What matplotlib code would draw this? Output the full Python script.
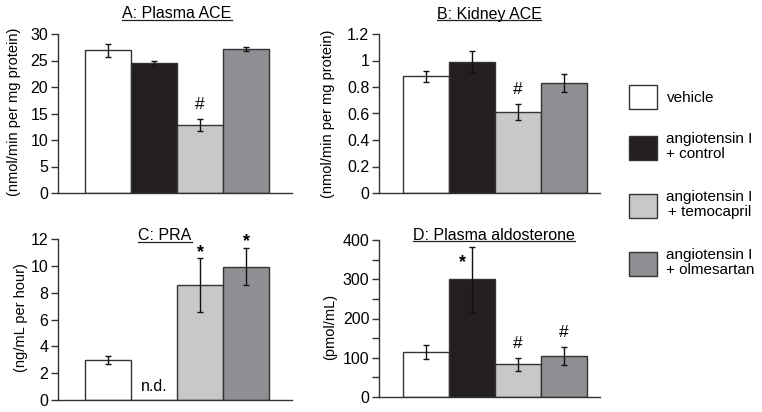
import numpy as np
import matplotlib.pyplot as plt
from matplotlib.patches import Rectangle
from matplotlib.lines import Line2D

plt.rcParams['font.family'] = ['Liberation Sans', 'DejaVu Sans']
plt.rcParams['font.size'] = 11

groups = ['vehicle', 'angiotensin I\n+ control', 'angiotensin I\n+ temocapril', 'angiotensin I\n+ olmesartan']
colors = ['#ffffff', '#231f20', '#c7c8ca', '#8f9093']

# panel data
plasma_ace = [26.9, 24.5, 12.8, 27.1]
plasma_ace_err = [1.2, 0.4, 1.15, 0.4]
kidney_ace = [0.88, 0.99, 0.61, 0.83]
kidney_ace_err = [0.04, 0.08, 0.06, 0.07]
pra = [2.95, np.nan, 8.55, 9.95]
pra_err = [0.3, np.nan, 2.0, 1.4]
aldo = [115, 300, 83, 104]
aldo_err = [18, 83, 17, 23]

titles = ['A: Plasma ACE', 'B: Kidney ACE', 'C: PRA', 'D: Plasma aldosterone']
ylabels = ['(nmol/min per mg protein)', '(nmol/min per mg protein)', '(ng/mL per hour)', '(pmol/mL)']
marks = [['', '', '#', ''], ['', '', '#', ''], ['', '', '*', '*'], ['', '*', '#', '#']]

W, H = 762, 412
fig = plt.figure(figsize=(W / 100, H / 100), dpi=100)


def rect(l, t, r, b):
    return [l / W, 1 - b / H, (r - l) / W, (b - t) / H]


def px(x, y):
    return x / W, 1 - y / H


panels = [
    dict(box=(58, 34, 292, 193), xlim=(-1.09, 4.0), vals=plasma_ace, errs=plasma_ace_err,
         ylim=30, ticks=np.arange(0, 31, 5), step=1, title=(177, 14), ylab=(14, 112)),
    dict(box=(379, 34, 600, 193), xlim=(-1.02, 3.78), vals=kidney_ace, errs=kidney_ace_err,
         ylim=1.2, ticks=np.arange(0, 1.21, 0.2), step=1, title=(489, 14), ylab=(328, 114)),
    dict(box=(58, 239, 292, 400), xlim=(-1.09, 4.0), vals=pra, errs=pra_err,
         ylim=12, ticks=np.arange(0, 13, 2), step=1, title=(165, 236), ylab=(21, 318)),
    dict(box=(379, 240, 600, 397), xlim=(-1.02, 3.78), vals=aldo, errs=aldo_err,
         ylim=400, ticks=np.arange(0, 401, 50), step=2, title=(494, 235), ylab=(330, 327)),
]

edge = '#333333'
title_texts = []
for i, p in enumerate(panels):
    ax = fig.add_axes(rect(*p['box']))
    x = np.arange(4)
    vals = np.array(p['vals'], dtype=float)
    errs = np.array(p['errs'], dtype=float)
    ax.bar(x, np.nan_to_num(vals), width=1.0, color=colors, edgecolor=edge, linewidth=1, zorder=2)
    ok = ~np.isnan(vals)
    ax.errorbar(x[ok], vals[ok], yerr=errs[ok], fmt='none', ecolor='#111111',
                elinewidth=1, capsize=2.5, capthick=1, zorder=3)
    ax.set_xlim(*p['xlim'])
    ax.set_ylim(0, p['ylim'])
    ax.set_yticks(p['ticks'])
    labels = ['%g' % t if k % p['step'] == 0 else '' for k, t in enumerate(p['ticks'])]
    ax.set_yticklabels(labels, fontsize=11.5)
    ax.set_xticks([])
    for s in ['top', 'right']:
        ax.spines[s].set_visible(False)
    for s in ['left', 'bottom']:
        ax.spines[s].set_color(edge)
        ax.spines[s].set_linewidth(1)
    ax.tick_params(axis='y', length=5, width=1, color=edge, pad=2)

    for j, m in enumerate(marks[i]):
        if not m:
            continue
        if m == '*':
            if i == 3:
                ax.annotate(m, (j, vals[j]), xytext=(-7, 6), textcoords='offset points',
                            ha='center', va='bottom', fontsize=13, fontweight='bold')
            else:
                ax.annotate(m, (j, vals[j] + errs[j]), xytext=(0, -2), textcoords='offset points',
                            ha='center', va='bottom', fontsize=13, fontweight='bold')
        else:
            ax.annotate(m, (j, vals[j] + errs[j]), xytext=(0, 5), textcoords='offset points',
                        ha='center', va='bottom', fontsize=12.5)
    for j in range(4):
        if np.isnan(vals[j]):
            ax.annotate('n.d.', (j, 0), xytext=(0, 4), textcoords='offset points',
                        ha='center', va='bottom', fontsize=11.5)

    tx, ty = px(*p['title'])
    title_texts.append(fig.text(tx, ty, titles[i], ha='center', va='center', fontsize=11.5))
    lx, ly = px(*p['ylab'])
    fig.text(lx, ly, ylabels[i], rotation=90, ha='center', va='center', fontsize=10.5)

# underline the titles
fig.canvas.draw()
r = fig.canvas.get_renderer()
for t in title_texts:
    bb = t.get_window_extent(r).transformed(fig.transFigure.inverted())
    uy = bb.y0 + 2 / H
    fig.add_artist(Line2D([bb.x0, bb.x1], [uy, uy],
                          transform=fig.transFigure, color='#222222', linewidth=0.9))

# legend
box_top = [85, 136, 194, 252]
for k, g in enumerate(groups):
    x0, y0 = px(629, box_top[k] + 24)
    fig.add_artist(Rectangle((x0, y0), 28 / W, 24 / H, transform=fig.transFigure,
                             facecolor=colors[k], edgecolor=edge, linewidth=1))
    if k == 0:
        tx, ty = px(667, box_top[k] + 13)
        fig.text(tx, ty, g, ha='left', va='center', fontsize=11)
    else:
        tx, ty = px(666, box_top[k] - 4)
        fig.text(tx, ty, g, ha='left', va='top', fontsize=11, linespacing=1.1,
                 multialignment='center' if k == 2 else 'left')

fig.savefig('out.png', dpi=100)
